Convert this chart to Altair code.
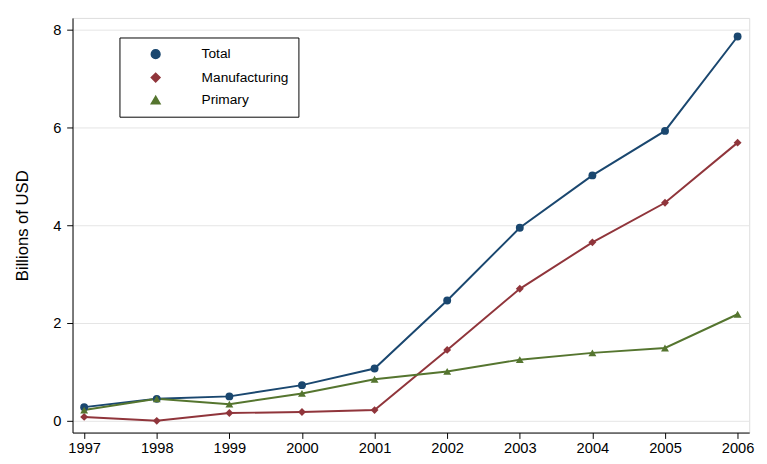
import altair as alt
import pandas as pd

years = [1997, 1998, 1999, 2000, 2001, 2002, 2003, 2004, 2005, 2006]
total = [0.28, 0.45, 0.50, 0.73, 1.07, 2.46, 3.95, 5.02, 5.93, 7.86]
manufacturing = [0.08, 0.00, 0.16, 0.18, 0.22, 1.45, 2.70, 3.65, 4.46, 5.69]
primary = [0.22, 0.45, 0.34, 0.56, 0.85, 1.01, 1.25, 1.39, 1.49, 2.18]

series = ["Total", "Manufacturing", "Primary"]
colors = ["#1a476f", "#90353b", "#55752f"]
shapes = ["circle", "diamond", "triangle-up"]

rows = []
for name, vals in zip(series, [total, manufacturing, primary]):
    for y, v in zip(years, vals):
        rows.append({"year": y, "value": v, "series": name})
df = pd.DataFrame(rows)

x = alt.X("year:Q", scale=alt.Scale(domain=[1996.84, 2006.16], nice=False, zero=False),
          axis=alt.Axis(values=years, format="d", title=None, grid=False, tickSize=6,
                        labelFontSize=15, domainColor="black", tickColor="black", labelColor="black"))
y = alt.Y("value:Q", scale=alt.Scale(domain=[-0.24, 8.24], nice=False),
          axis=alt.Axis(values=[0, 2, 4, 6, 8], title="Billions of USD", titleFontSize=17,
                        titleFontWeight="normal", labelFontSize=15, tickSize=6, gridColor="#e4e4e4",
                        titlePadding=22, labelPadding=6,
                        domainColor="black", tickColor="black", labelColor="black", titleColor="black"))
color = alt.Color("series:N", scale=alt.Scale(domain=series, range=colors),
                  legend=alt.Legend(title=None, orient="none", legendX=48, legendY=20,
                                    strokeColor="black", padding=10, labelFontSize=14,
                                    symbolSize=80, rowPadding=8, labelColor="black",
                                    labelOffset=40, symbolOffset=20))
shape = alt.Shape("series:N", scale=alt.Scale(domain=series, range=shapes))

base = alt.Chart(df).encode(x=x, y=y, color=color)
lines = base.mark_line(strokeWidth=2)
pts = base.mark_point(filled=True, size=65, opacity=1).encode(shape=shape)

chart = (lines + pts).properties(width=692, height=424).configure_view(stroke=None).configure(
    font="Liberation Sans")
chart.save("out.html", embed_options={"renderer": "svg", "actions": False})
